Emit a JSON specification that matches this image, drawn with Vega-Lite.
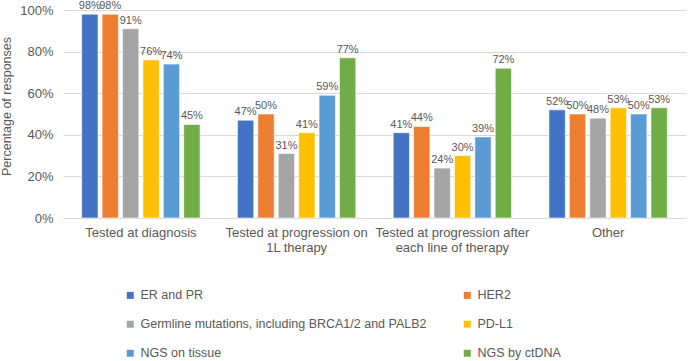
{
  "$schema": "https://vega.github.io/schema/vega-lite/v6.json",
  "autosize": {"type": "none"},
  "width": 623,
  "height": 208,
  "padding": {"left": 63, "top": 10, "right": 2, "bottom": 143},
  "background": "white",
  "config": {
    "font": "Liberation Sans",
    "view": {"stroke": null}
  },
  "data": {
    "values": [
      {"stage": "Tested at diagnosis", "test": "ER and PR", "share": 0.98},
      {"stage": "Tested at diagnosis", "test": "HER2", "share": 0.98},
      {"stage": "Tested at diagnosis", "test": "Germline mutations, including BRCA1/2 and PALB2", "share": 0.91},
      {"stage": "Tested at diagnosis", "test": "PD-L1", "share": 0.76},
      {"stage": "Tested at diagnosis", "test": "NGS on tissue", "share": 0.74},
      {"stage": "Tested at diagnosis", "test": "NGS by ctDNA", "share": 0.45},
      {"stage": "Tested at progression on 1L therapy", "test": "ER and PR", "share": 0.47},
      {"stage": "Tested at progression on 1L therapy", "test": "HER2", "share": 0.50},
      {"stage": "Tested at progression on 1L therapy", "test": "Germline mutations, including BRCA1/2 and PALB2", "share": 0.31},
      {"stage": "Tested at progression on 1L therapy", "test": "PD-L1", "share": 0.41},
      {"stage": "Tested at progression on 1L therapy", "test": "NGS on tissue", "share": 0.59},
      {"stage": "Tested at progression on 1L therapy", "test": "NGS by ctDNA", "share": 0.77},
      {"stage": "Tested at progression after each line of therapy", "test": "ER and PR", "share": 0.41},
      {"stage": "Tested at progression after each line of therapy", "test": "HER2", "share": 0.44},
      {"stage": "Tested at progression after each line of therapy", "test": "Germline mutations, including BRCA1/2 and PALB2", "share": 0.24},
      {"stage": "Tested at progression after each line of therapy", "test": "PD-L1", "share": 0.30},
      {"stage": "Tested at progression after each line of therapy", "test": "NGS on tissue", "share": 0.39},
      {"stage": "Tested at progression after each line of therapy", "test": "NGS by ctDNA", "share": 0.72},
      {"stage": "Other", "test": "ER and PR", "share": 0.52},
      {"stage": "Other", "test": "HER2", "share": 0.50},
      {"stage": "Other", "test": "Germline mutations, including BRCA1/2 and PALB2", "share": 0.48},
      {"stage": "Other", "test": "PD-L1", "share": 0.53},
      {"stage": "Other", "test": "NGS on tissue", "share": 0.50},
      {"stage": "Other", "test": "NGS by ctDNA", "share": 0.53}
    ]
  },
  "encoding": {
    "x": {
      "field": "stage",
      "type": "nominal",
      "sort": null,
      "scale": {"paddingInner": 0.24, "paddingOuter": 0.12},
      "axis": {
        "title": null,
        "labelAngle": 0,
        "labelFontSize": 13,
        "labelColor": "#595959",
        "labelPadding": 8,
        "labelLineHeight": 15,
        "labelLimit": 200,
        "ticks": false,
        "domainColor": "#D9D9D9",
        "labelExpr": "datum.label == 'Tested at progression on 1L therapy' ? ['Tested at progression on', '1L therapy'] : datum.label == 'Tested at progression after each line of therapy' ? ['Tested at progression after', 'each line of therapy'] : datum.label"
      }
    },
    "xOffset": {
      "field": "test",
      "type": "nominal",
      "sort": null,
      "scale": {"paddingInner": 0.2, "paddingOuter": 0}
    },
    "y": {
      "field": "share",
      "type": "quantitative",
      "scale": {"domain": [0, 1], "nice": false},
      "axis": {
        "title": "Percentage of responses",
        "titleFontSize": 12.5,
        "titleFontWeight": "normal",
        "titleColor": "#595959",
        "titlePadding": 6,
        "titleY": 96,
        "format": ".0%",
        "values": [0, 0.2, 0.4, 0.6, 0.8, 1],
        "labelOverlap": false,
        "labelFontSize": 13,
        "labelColor": "#595959",
        "labelPadding": 10,
        "ticks": false,
        "domain": false,
        "gridColor": "#D9D9D9"
      }
    }
  },
  "layer": [
    {
      "mark": {"type": "bar", "stroke": "white", "strokeWidth": 0.6},
      "encoding": {
        "color": {
          "field": "test",
          "type": "nominal",
          "scale": {
            "domain": ["ER and PR", "HER2", "Germline mutations, including BRCA1/2 and PALB2", "PD-L1", "NGS on tissue", "NGS by ctDNA"],
            "range": ["#4472C4", "#ED7D31", "#A5A5A5", "#FFC000", "#5B9BD5", "#70AD47"]
          },
          "legend": {
            "title": null,
            "orient": "none",
            "direction": "horizontal",
            "legendX": 61,
            "legendY": 279,
            "columns": 2,
            "columnPadding": 34,
            "rowPadding": 16,
            "symbolType": "square",
            "symbolSize": 49,
            "symbolStrokeWidth": 0,
            "labelFontSize": 12.5,
            "labelColor": "#595959",
            "labelOffset": 4,
            "labelLimit": 400
          }
        }
      }
    },
    {
      "mark": {"type": "text", "baseline": "bottom", "dy": -3, "fontSize": 11, "color": "#595959"},
      "encoding": {
        "text": {"field": "share", "type": "quantitative", "format": ".0%"}
      }
    }
  ]
}
